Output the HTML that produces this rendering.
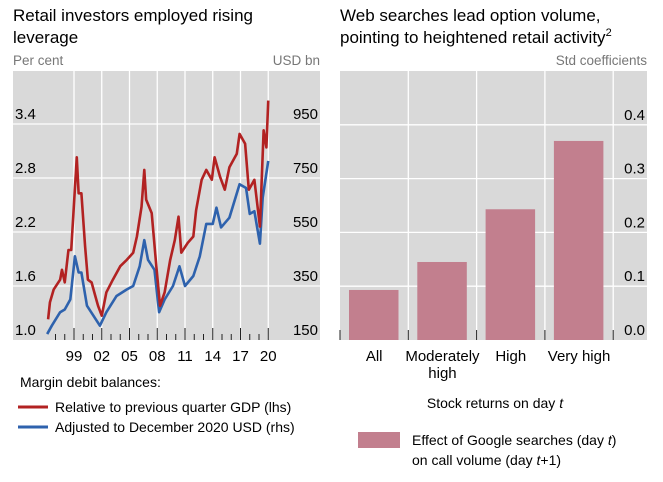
<!DOCTYPE html>
<html><head><meta charset="utf-8"><style>
body{margin:0;background:#fff;width:663px;height:482px;overflow:hidden;font-family:"Liberation Sans",sans-serif}
svg{display:block}
</style></head><body>
<svg id="c" width="663" height="482" font-family="Liberation Sans, sans-serif">
<text x="13" y="21" font-size="17" fill="#000">Retail investors employed rising</text>
<text x="13" y="43" font-size="17" fill="#000">leverage</text>
<text x="13" y="65" font-size="13.5" fill="#777">Per cent</text>
<text x="320" y="65" font-size="13.5" fill="#777" text-anchor="end">USD bn</text>
<text x="340" y="21" font-size="17">Web searches lead option volume,</text>
<text x="340" y="43" font-size="17">pointing to heightened retail activity<tspan font-size="11" dy="-7">2</tspan></text>
<text x="647" y="65" font-size="13.5" fill="#777" text-anchor="end">Std coefficients</text>
<rect x="13" y="71" width="307" height="269" fill="#d9d9d9"/>
<rect x="340" y="71" width="307" height="269" fill="#d9d9d9"/>
<g id="L"></g><g id="R"></g>
<text x="20" y="387" font-size="14">Margin debit balances:</text>
<line x1="18" y1="407" x2="48" y2="407" stroke="#b22222" stroke-width="3"/>
<text x="55" y="412" font-size="14">Relative to previous quarter GDP (lhs)</text>
<line x1="18" y1="427" x2="48" y2="427" stroke="#2e62ad" stroke-width="3"/>
<text x="55" y="432" font-size="14">Adjusted to December 2020 USD (rhs)</text>
<text x="495" y="408" font-size="14" text-anchor="middle">Stock returns on day <tspan font-style="italic">t</tspan></text>
<rect x="358" y="432" width="42" height="16" fill="#c27f8e"/>
<text x="412" y="445" font-size="14">Effect of Google searches (day <tspan font-style="italic">t</tspan>)</text>
<text x="412" y="465" font-size="14">on call volume (day <tspan font-style="italic">t</tspan>+1)</text>
</svg>
<script>
const redYears=[1996.2,1996.4,1996.8,1997.5,1997.7,1998.0,1998.4,1998.7,1999.3,1999.5,1999.8,2000.2,2000.5,2000.9,2001.3,2001.6,2002.0,2002.5,2003.2,2004.0,2004.7,2005.4,2005.8,2006.3,2006.6,2006.8,2007.4,2007.9,2008.3,2008.8,2009.4,2009.9,2010.3,2010.6,2011.3,2011.9,2012.2,2012.8,2013.3,2013.9,2014.2,2014.8,2015.3,2015.8,2016.6,2016.9,2017.5,2017.9,2018.5,2019.1,2019.5,2019.8,2020.0];
const redValues=[1.23,1.42,1.56,1.67,1.78,1.64,2.0,2.0,3.03,2.63,2.63,2.04,1.67,1.64,1.49,1.38,1.27,1.53,1.67,1.82,1.89,1.97,2.15,2.48,2.89,2.56,2.41,1.82,1.38,1.53,1.89,2.11,2.37,1.97,2.08,2.15,2.44,2.78,2.89,2.78,3.03,2.81,2.67,2.92,3.07,3.29,3.18,2.67,2.78,2.26,3.33,3.14,3.66];
const blueYears=[1996.1,1996.6,1997.5,1998.0,1998.6,1999.1,1999.5,1999.8,2000.4,2001.1,2001.8,2002.5,2003.6,2004.7,2005.4,2006.1,2006.6,2007.0,2007.7,2008.2,2008.8,2009.7,2010.4,2011.0,2011.9,2012.6,2013.3,2014.0,2014.4,2014.9,2015.8,2016.9,2017.6,2018.0,2018.5,2019.1,2019.4,2020.0];
const blueValuesUSD=[172,203,253,263,300,460,400,400,277,240,203,253,313,337,350,423,520,447,410,253,300,350,423,350,387,460,580,580,640,567,603,727,713,617,627,507,677,813];
const lhsTicks=[1.0,1.6,2.2,2.8,3.4];
const rhsTicks=[150,350,550,750,950];
const yearLabels=["99","02","05","08","11","14","17","20"];
const categories=["All","Moderately|high","High","Very high"];
const barValues=[0.093,0.145,0.243,0.37];
const barTicks=[0.0,0.1,0.2,0.3,0.4];

const NS="http://www.w3.org/2000/svg";
function mk(p,t,a){const e=document.createElementNS(NS,t);for(const k in a)e.setAttribute(k,a[k]);p.appendChild(e);return e;}
const L=document.getElementById('L'),R=document.getElementById('R');
const xL=y=>74+(y-1999)*9.25;
const yL=v=>340-(v-1.0)*90;
const yR=u=>yL(1+(u-150)/(800/2.4));
lhsTicks.forEach((v,i)=>{
 if(i>0){const g=mk(L,'line',{x1:13,x2:320,y1:yL(v),y2:yL(v),stroke:'#fff','stroke-width':1.3});
 
 }
 const t=mk(L,'text',{x:15,y:yL(v)-5,'font-size':15});t.textContent=v.toFixed(1);
 
 
});
rhsTicks.forEach(u=>{
 const t=mk(L,'text',{x:318,y:yR(u)-5,'font-size':15,'text-anchor':'end'});t.textContent=u;
 
 
});
for(let y=1997;y<=2020;y++){
 const major=(y-1999)%3===0;
 if(major){const g=mk(L,'line',{x1:xL(y),x2:xL(y),y1:71,y2:340,stroke:'#fff','stroke-width':1.3});
 
 }
 const tk=mk(L,'line',{x1:xL(y),x2:xL(y),y1:major?328:334,y2:340,stroke:'#222','stroke-width':1});
 
 
}
yearLabels.forEach((s,i)=>{
 const t=mk(L,'text',{x:xL(1999+3*i),y:361,'font-size':15,'text-anchor':'middle'});t.textContent=s;
 
 
});
const bp=mk(L,'polyline',{points:blueYears.map((y,i)=>xL(y)+','+yR(blueValuesUSD[i])).join(' '),fill:'none',stroke:'#2e62ad','stroke-width':2.6,'stroke-linejoin':'round'});


const rp=mk(L,'polyline',{points:redYears.map((y,i)=>xL(y)+','+yL(redValues[i])).join(' '),fill:'none',stroke:'#b22222','stroke-width':2.6,'stroke-linejoin':'round'});



const yB=v=>340-v*538;
const cw=68.3;
barTicks.forEach((v,i)=>{
 if(i>0){const g=mk(R,'line',{x1:340,x2:647,y1:yB(v),y2:yB(v),stroke:'#fff','stroke-width':1.3});
 
 }
 const t=mk(R,'text',{x:645,y:yB(v)-5,'font-size':15,'text-anchor':'end'});t.textContent=v.toFixed(1);
 
 
});
for(let i=0;i<=4;i++){
 const x=340+i*cw;
 if(i>0){const g=mk(R,'line',{x1:x,x2:x,y1:71,y2:340,stroke:'#fff','stroke-width':1.3});
 
 }
 const tk=mk(R,'line',{x1:x,x2:x,y1:330,y2:340,stroke:'#222','stroke-width':1});
 
 
}
categories.forEach((c,i)=>{
 const x0=340+i*cw;
 const b=mk(R,'rect',{x:x0+9,y:yB(barValues[i]),width:49.5,height:340-yB(barValues[i]),fill:'#c27f8e'});
 
 
 c.split('|').forEach((s,j)=>{
  const t=mk(R,'text',{x:x0+cw/2,y:361+j*17,'font-size':15,'text-anchor':'middle'});t.textContent=s;
  
  
 });
});
</script>
</body></html>
